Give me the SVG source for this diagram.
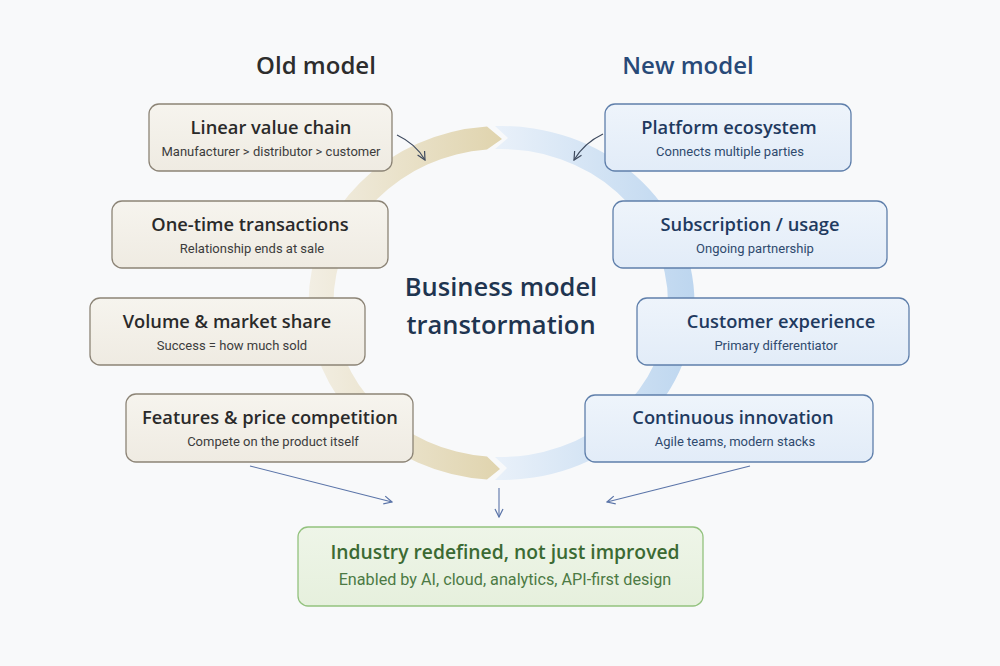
<svg xmlns="http://www.w3.org/2000/svg" width="1000" height="666" viewBox="0 0 1000 666">
<defs>
  <linearGradient id="tanRing" gradientUnits="userSpaceOnUse" x1="310" y1="0" x2="500" y2="0">
    <stop offset="0" stop-color="#f2eee3"/>
    <stop offset="1" stop-color="#e0d4ae"/>
  </linearGradient>
  <linearGradient id="blueRing" gradientUnits="userSpaceOnUse" x1="500" y1="0" x2="695" y2="0">
    <stop offset="0" stop-color="#e8f0f9"/>
    <stop offset="1" stop-color="#bdd6ef"/>
  </linearGradient>
  <linearGradient id="oldFill" x1="0" y1="0" x2="0" y2="1">
    <stop offset="0" stop-color="#f6f4ee"/>
    <stop offset="1" stop-color="#efebe2"/>
  </linearGradient>
  <linearGradient id="newFill" x1="0" y1="0" x2="0" y2="1">
    <stop offset="0" stop-color="#eef4fb"/>
    <stop offset="1" stop-color="#e2ecf8"/>
  </linearGradient>
  <linearGradient id="resFill" x1="0" y1="0" x2="0" y2="1">
    <stop offset="0" stop-color="#eef5e8"/>
    <stop offset="1" stop-color="#e6f0dd"/>
  </linearGradient>
  <marker id="arrDark" viewBox="0 0 10 10" refX="9" refY="5" markerWidth="10" markerHeight="10" markerUnits="userSpaceOnUse" orient="auto">
    <path d="M1,1 L9,5 L1,9" fill="none" stroke="#3e4a5e" stroke-width="1.2"/>
  </marker>
  <marker id="arrBlue" viewBox="0 0 10 10" refX="9" refY="5" markerWidth="10" markerHeight="10" markerUnits="userSpaceOnUse" orient="auto">
    <path d="M1,1 L9,5 L1,9" fill="none" stroke="#5a74a8" stroke-width="1.2"/>
  </marker>
</defs>
<style>
  .old rect { fill: url(#oldFill); stroke: #8c8476; stroke-width: 1.3; }
  .new rect { fill: url(#newFill); stroke: #5f7fab; stroke-width: 1.3; }
  .t { font-family: "Open Sans", "Noto Sans", sans-serif; font-weight: 600; font-size: 18.3px; text-anchor: middle; }
  .s { font-family: Roboto, "Liberation Sans", sans-serif; font-size: 13px; text-anchor: middle; }
  .old .t { fill: #2a2a2a; }
  .old .s { fill: #3c3c3c; }
  .new .t { fill: #1f3a5f; }
  .new .s { fill: #2f4a6e; }
  .hdr { font-family: "Open Sans", "Noto Sans", sans-serif; font-weight: 600; font-size: 24px; text-anchor: middle; }
  .ctr { font-family: "Open Sans", "Noto Sans", sans-serif; font-weight: 600; font-size: 25.5px; text-anchor: middle; fill: #1f3550; }
  .conn path, .conn line { fill: none; stroke-width: 1.1; }
</style>
<rect x="0" y="0" width="1000" height="666" fill="#f8f9fa"/>

<g id="ring">
  <path d="M 487 126.5 L 502 139 L 487 149.5 A 167 154 0 0 0 487 456.5 L 500 469 L 487 479.5 A 193 177 0 0 1 487 126.5 Z" fill="url(#tanRing)"/>
  <path d="M 495 126.1 A 193 177 0 1 1 495 479.9 L 507 468 L 495 456.9 A 167 154 0 1 0 495 149.1 L 508 138 Z" fill="url(#blueRing)"/>
</g>

<text class="hdr" x="316" y="74" fill="#2d2d2d">Old model</text>
<text class="hdr" x="688" y="74" fill="#284a78">New model</text>

<g id="center-title">
  <text class="ctr" x="501" y="296">Business model</text>
  <text class="ctr" x="501" y="334">transtormation</text>
</g>

<g id="old-linear" class="old">
  <rect x="149" y="104" width="243" height="67" rx="10"/>
  <text class="t" x="271" y="134">Linear value chain</text>
  <text class="s" x="271" y="156">Manufacturer &gt; distributor &gt; customer</text>
</g>
<g id="old-onetime" class="old">
  <rect x="112" y="201" width="276" height="67" rx="10"/>
  <text class="t" x="250" y="231">One-time transactions</text>
  <text class="s" x="252" y="253">Relationship ends at sale</text>
</g>
<g id="old-volume" class="old">
  <rect x="90" y="298" width="275" height="67" rx="10"/>
  <text class="t" x="227" y="328">Volume &amp; market share</text>
  <text class="s" x="232" y="350">Success = how much sold</text>
</g>
<g id="old-features" class="old">
  <rect x="126" y="394" width="287" height="68" rx="10"/>
  <text class="t" x="270" y="424">Features &amp; price competition</text>
  <text class="s" x="273" y="446">Compete on the product itself</text>
</g>

<g id="new-platform" class="new">
  <rect x="605" y="104" width="246" height="67" rx="10"/>
  <text class="t" x="729" y="134">Platform ecosystem</text>
  <text class="s" x="730" y="156">Connects multiple parties</text>
</g>
<g id="new-subscription" class="new">
  <rect x="613" y="201" width="274" height="67" rx="10"/>
  <text class="t" x="750" y="231">Subscription / usage</text>
  <text class="s" x="755" y="253">Ongoing partnership</text>
</g>
<g id="new-cx" class="new">
  <rect x="637" y="298" width="272" height="67" rx="10"/>
  <text class="t" x="781" y="328">Customer experience</text>
  <text class="s" x="776" y="350">Primary differentiator</text>
</g>
<g id="new-innovation" class="new">
  <rect x="585" y="395" width="288" height="67" rx="10"/>
  <text class="t" x="733" y="424">Continuous innovation</text>
  <text class="s" x="735" y="446">Agile teams, modern stacks</text>
</g>

<g id="result">
  <rect x="298" y="527" width="405" height="79" rx="10" fill="url(#resFill)" stroke="#93c27e" stroke-width="1.3"/>
  <text x="505" y="559" font-family="Open Sans, Noto Sans, sans-serif" font-weight="600" font-size="19.3px" text-anchor="middle" fill="#3b6a33">Industry redefined, not just improved</text>
  <text x="505" y="585" font-family="Roboto, Liberation Sans, sans-serif" font-size="16.2px" text-anchor="middle" fill="#4c7a44">Enabled by AI, cloud, analytics, API-first design</text>
</g>

<g id="connectors" class="conn">
  <path d="M 397 135 Q 416 144 425 160" stroke="#3e4a5e" marker-end="url(#arrDark)"/>
  <path d="M 603 134 Q 584 143 574 160" stroke="#3e4a5e" marker-end="url(#arrDark)"/>
  <line x1="250" y1="466" x2="392" y2="502" stroke="#5a74a8" marker-end="url(#arrBlue)"/>
  <line x1="499" y1="488" x2="499" y2="517" stroke="#5a74a8" marker-end="url(#arrBlue)"/>
  <line x1="750" y1="466" x2="607" y2="502" stroke="#5a74a8" marker-end="url(#arrBlue)"/>
</g>
</svg>
